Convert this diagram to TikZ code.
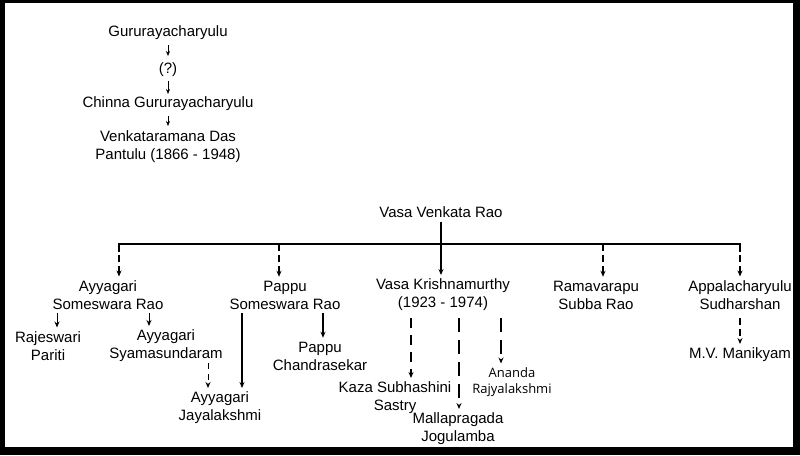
\documentclass[tikz,border=0pt]{standalone}
\usepackage{fontspec}
\setmainfont{Liberation Sans}
\newfontfamily\altfont{Open Sans}
\usetikzlibrary{arrows.meta}
\begin{document}
\begin{tikzpicture}[x=1pt,y=-1pt,
  lbl/.style={align=center,font=\fontsize{15}{18}\selectfont,inner sep=0pt,outer sep=4pt},
  sm/.style={align=center,font=\altfont\fontsize{13}{16}\selectfont,inner sep=0pt,outer sep=4pt},
  ar/.style={-{Stealth[length=6pt,width=5pt]},line width=0.9pt},
  dar/.style={ar,dash pattern=on 7pt off 4pt},
  ln/.style={line width=1.3pt}]
\useasboundingbox (0,0) rectangle (800,455);
\fill[black] (0,0) rectangle (800,455);
\fill[white] (5,3) rectangle (793,447);
\node[lbl] (g) at (168,33) {Gururayacharyulu};
\node[lbl] (q) at (168,70) {(?)};
\node[lbl] (c) at (168,104) {Chinna Gururayacharyulu};
\node[lbl] (v) at (168,147) {Venkataramana Das\\Pantulu (1866 - 1948)};
\draw[ar,line width=0.7pt,-{Stealth[length=5pt,width=4pt]}] (g.south) ++(0,1) -- (168,56);
\draw[ar,line width=0.7pt,-{Stealth[length=5pt,width=4pt]}] (q.south) ++(0,0) -- (168,94);
\draw[ar,line width=0.7pt,-{Stealth[length=5pt,width=4pt]}] (c.south) ++(0,1) -- (168,126);
\node[lbl] (vvr) at (441,212) {Vasa Venkata Rao};
\node[lbl] (asr) at (108,295) {Ayyagari\\Someswara Rao};
\node[lbl] (psr) at (285,295) {Pappu\\Someswara Rao};
\node[lbl] (vk) at (443,295) {Vasa Krishnamurthy\\(1923 - 1974)};
\node[lbl] (rsr) at (596,295) {Ramavarapu\\Subba Rao};
\node[lbl] (aps) at (740,295) {Appalacharyulu\\Sudharshan};
\coordinate (bl) at (119,244);
\coordinate (br) at (740,244);
\coordinate (bm) at (441,244);
\draw[ln] (119,252) -- (bl) -- (br) -- (740,252);
\draw[ar,line width=1.3pt] (vvr) -- (vk.north -| bm);
\draw[dar,line width=1.3pt] (119,244) -- (asr.north -| 119,0);
\draw[dar,line width=1.3pt] (279,244) -- (psr.north -| 279,0);
\draw[dar,line width=1.3pt] (603,244) -- (rsr.north -| 603,0);
\draw[dar,line width=1.3pt] (740,244) -- (aps.north);
\node[lbl] (rp) at (48,346) {Rajeswari\\Pariti};
\node[lbl] (as) at (166,346) {Ayyagari\\Syamasundaram};
\node[lbl] (aj) at (220,408) {Ayyagari\\Jayalakshmi};
\node[lbl] (pc) at (320,356) {Pappu\\Chandrasekar};
\node[lbl] (ks) at (395,398) {Kaza Subhashini\\Sastry};
\node[lbl] (mj) at (458,429) {Mallapragada\\Jogulamba};
\node[sm] (ar) at (512,382) {Ananda\\Rajyalakshmi};
\node[lbl] (mv) at (740,355) {M.V. Manikyam};
\draw[ar] (57,313) -- (rp.north -| 57,0);
\draw[ar] (149,313) -- (as.north -| 149,0);
\draw[dar,line width=0.8pt,dash pattern=on 6pt off 5pt] (208,363) -- (aj.north -| 208,0);
\draw[ar,line width=1.3pt] (242,313) -- (aj.north -| 242,0);
\draw[ar,line width=1.5pt] (323,313) -- (pc.north -| 323,0);
\draw[dar,line width=1.3pt,dash pattern=on 10pt off 7pt] (411,318) -- (ks.north -| 411,0);
\draw[dar,line width=1.3pt,dash pattern=on 14pt off 8pt] (459,318) -- (mj.north -| 459,0);
\draw[dar,line width=1.3pt,dash pattern=on 14pt off 8pt] (501,318) -- (ar.north -| 501,0);
\draw[dar,line width=1.3pt] (740,318) -- (mv.north);
\end{tikzpicture}
\end{document}
